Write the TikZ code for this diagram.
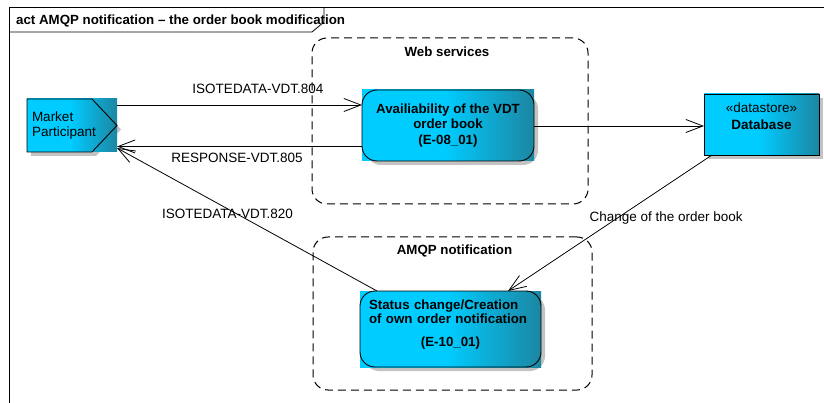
\documentclass[tikz,border=0pt]{standalone}
\usepackage{fontspec}
\setmainfont{Liberation Sans}
\usetikzlibrary{arrows.meta,calc,backgrounds}
\definecolor{cyA}{RGB}{0,204,255}
\definecolor{tlA}{RGB}{28,134,162}
\definecolor{shdw}{RGB}{195,195,195}
\pgfdeclarehorizontalshading{cyshade}{100bp}{color(0bp)=(cyA); color(25bp)=(cyA); color(49bp)=(cyA); color(75bp)=(tlA); color(100bp)=(tlA)}
\newcommand{\cyanfill}[2]{%
  \fill[shdw, rounded corners=#2] ($(#1.north west)+(4,4)$) rectangle ($(#1.south east)+(4,4)$);
  \shade[shading=cyshade] (#1.north west) rectangle (#1.south east);
  \draw[line width=0.9pt, rounded corners=#2] (#1.north west) rectangle (#1.south east);}
\tikzset{
  txt/.style={font=\fontsize{13.5}{15}\selectfont, inner sep=0pt},
  btxt/.style={font=\bfseries\fontsize{13.3}{15.5}\selectfont, inner sep=0pt},
  cbox/.style={inner sep=0pt, outer sep=0pt},
  grp/.style={draw, dash pattern=on 8pt off 5pt, line width=1pt, rounded corners=15pt, inner sep=0pt},
  flow/.style={line width=0.8pt, -{Straight Barb[length=17pt,width=13pt,line width=0.8pt]}}
}
\begin{document}
\begin{tikzpicture}[x=1pt,y=-1pt]
\useasboundingbox (0,0) rectangle (824,403);

% frame
\draw[line width=1.5pt] (9.5,410) -- (9.5,7.5) -- (830,7.5);
\draw[line width=0.8pt] (9.5,32) -- (312,32) -- (324,22) -- (324,7.5);
\node[btxt, anchor=west] (title) at (16,20.5) {act AMQP notification \textendash{} the order book modification};

% groups
\node[grp, minimum width=276pt, minimum height=166pt] (web) at (450,121) {};
\node[btxt] (webtitle) at ($(web.north)+(-3,14)$) {Web services};
\node[grp, minimum width=279pt, minimum height=153pt] (amqp) at (452.5,313.5) {};
\node[btxt] (amqptitle) at ($(amqp.north)+(2,14)$) {AMQP notification};

% activity nodes
\node[cbox, txt, minimum width=90pt, minimum height=53pt, text width=80pt, inner xsep=5pt, align=left] (mp) at (72,125.5) {Market\\Participant};
\node[cbox, btxt, minimum width=172pt, minimum height=71pt, align=center] (avail) at (448,125.5) {Availiability of the VDT\\order book\\(E-08\_01)};
\node[cbox, minimum width=115pt, minimum height=61pt] (db) at (761.5,124.5) {};
\node[txt, align=center, font=\fontsize{13.5}{17}\selectfont] (dbtxt) at ($(db.center)+(0,-8)$) {«datastore»\\\textbf{Database}};
\node[cbox, minimum width=181pt, minimum height=76pt] (status) at (450.5,329) {};
\node[btxt, font=\bfseries\fontsize{13.3}{14.5}\selectfont, text width=163pt, align=left] (stxt) at ($(status.center)+(0,-4.5)$) {Status change/Creation\\of own order notification\\[8.5pt]\makebox[163pt][c]{(E-10\_01)}};

\begin{scope}[on background layer]
  \fill[white] (0,0) rectangle (824,403);
  % market participant
  \fill[shdw] ($(mp.north west)+(4,4)$) -- ($(mp.north east)+(-21,4)$) -- ($(mp.east)+(4,4)$) -- ($(mp.south east)+(-21,4)$) -- ($(mp.south west)+(4,4)$) -- cycle;
  \shade[shading=cyshade] (mp.north west) rectangle (mp.south east);
  \draw[line width=0.9pt] (mp.north west) -- ($(mp.north east)+(-25,0)$) -- (mp.east) -- ($(mp.south east)+(-25,0)$) -- (mp.south west) -- cycle;
  \cyanfill{avail}{15pt}
  \cyanfill{db}{0pt}
  \cyanfill{status}{15pt}
\end{scope}

% connectors
\draw[flow] (mp.east |- 0,105) -- (avail.west |- 0,105)
  node[txt, pos=0.575, yshift=16pt] (l804) {ISOTEDATA-VDT.804};
\draw[flow] (avail.west |- 0,146.5) -- (mp.east |- 0,146.5)
  node[txt, pos=0.51, yshift=-11.5pt] (l805) {RESPONSE-VDT.805};
\draw[flow] (avail.east |- 0,126) -- (db.west |- 0,126);
\draw[flow] ($(status.north west)+(17,0)$) -- ($(mp.south east)+(0,-4)$)
  node[txt, pos=0.575, yshift=-5pt] (l820) {ISOTEDATA-VDT.820};
\draw[flow] ($(db.south west)+(8,0)$) -- ($(status.north east)+(-33,0)$)
  node[txt, pos=0.463, xshift=48.5pt] (lchg) {Change of the order book};
\end{tikzpicture}
\end{document}
